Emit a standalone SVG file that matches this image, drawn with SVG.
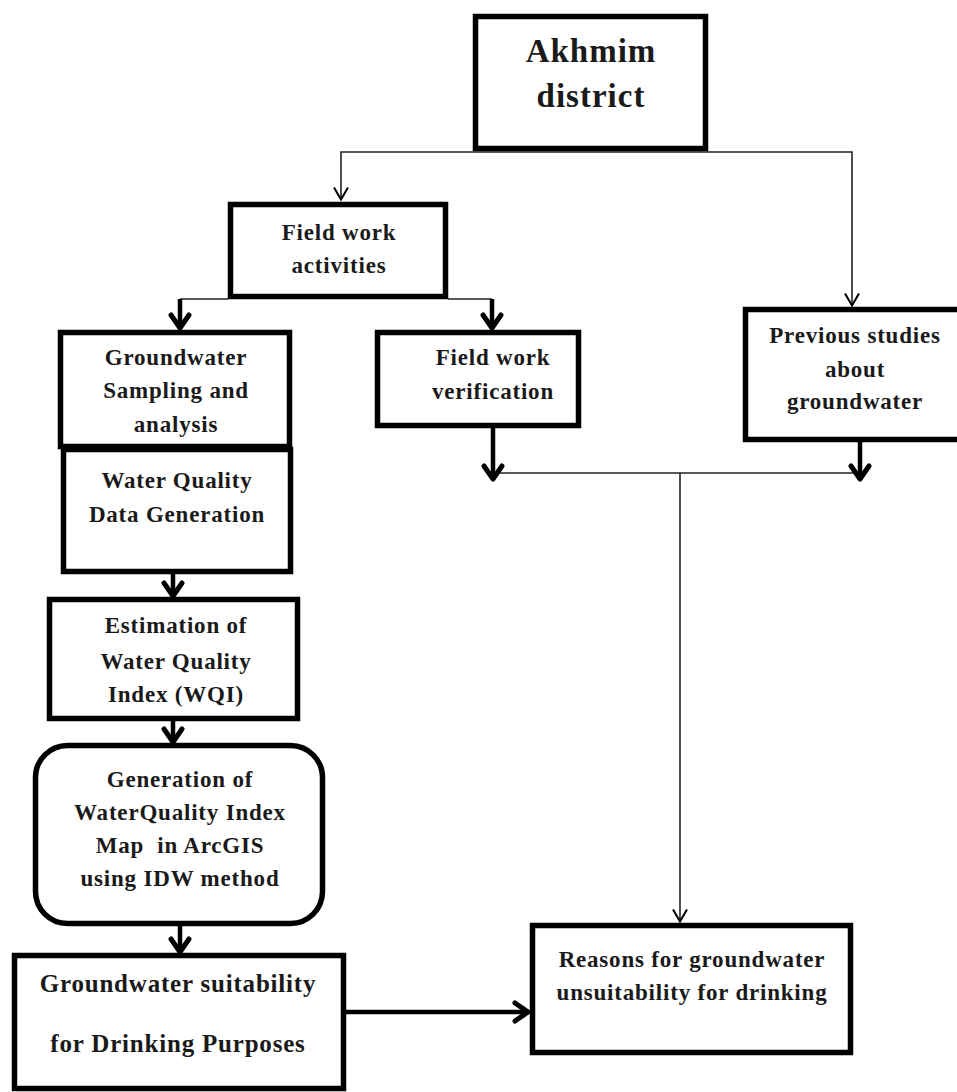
<svg xmlns="http://www.w3.org/2000/svg" width="957" height="1092" viewBox="0 0 957 1092">
<style>
.box{fill:#fff;stroke:#000;stroke-width:5.5}
.t{font-family:"Liberation Serif","Times New Roman",serif;font-weight:bold;font-size:23px;letter-spacing:0.8px;fill:#1a1a1a;text-anchor:middle}
.big{font-size:33px;letter-spacing:1px}
.mid{font-size:25px;letter-spacing:0.8px}
.thin{fill:none;stroke:#222;stroke-width:1.6}
.thick{fill:none;stroke:#000;stroke-width:4.5}
</style>
<defs>
<marker id="ah" viewBox="0 0 16 16" refX="14.5" refY="8" markerWidth="16" markerHeight="16" markerUnits="userSpaceOnUse" orient="auto">
<path d="M2,1 L14,8 L2,15" fill="none" stroke="#000" stroke-width="2"/>
</marker>
<marker id="ahk" viewBox="0 0 24 24" refX="19" refY="12" markerWidth="24" markerHeight="24" markerUnits="userSpaceOnUse" orient="auto">
<path d="M5,3 L18,12 L5,21" fill="none" stroke="#000" stroke-width="5" stroke-linejoin="round" stroke-linecap="round"/>
</marker>
</defs>
<rect width="957" height="1092" fill="#fff"/>

<g id="connectors">
<path class="thin" d="M590,152 H341 V200" marker-end="url(#ah)"/>
<path class="thin" d="M590,152 H852 V306" marker-end="url(#ah)"/>
<path class="thin" d="M228,299 H180"/>
<path class="thin" d="M448,299 H492"/>
<path class="thick" d="M180,299 V329" marker-end="url(#ahk)"/>
<path class="thick" d="M492,299 V329" marker-end="url(#ahk)"/>
<path class="thin" d="M493,473 H860"/>
<path class="thick" d="M493,428 V480" marker-end="url(#ahk)"/>
<path class="thick" d="M860,442 V480" marker-end="url(#ahk)"/>
<path class="thin" d="M680,473 V922" marker-end="url(#ah)"/>
<path class="thick" d="M173,574 V597" marker-end="url(#ahk)"/>
<path class="thick" d="M173,721 V743" marker-end="url(#ahk)"/>
<path class="thick" d="M180,926 V953" marker-end="url(#ahk)"/>
<path class="thick" d="M346,1012 H529" marker-end="url(#ahk)"/>
</g>

<g id="akhmim">
<rect class="box" x="475.5" y="16.5" width="230" height="132"/>
<text class="t big" x="591" y="62">Akhmim</text>
<text class="t big" x="591" y="107">district</text>
</g>

<g id="fieldwork">
<rect class="box" x="230.5" y="204.5" width="215" height="92"/>
<text class="t" x="339" y="240">Field work</text>
<text class="t" x="339" y="273">activities</text>
</g>

<g id="sampling">
<rect class="box" x="60.5" y="332.5" width="229" height="114"/>
<text class="t" x="176" y="365">Groundwater</text>
<text class="t" x="176" y="398">Sampling and</text>
<text class="t" x="176" y="432">analysis</text>
</g>

<g id="wqdata">
<rect class="box" x="63.5" y="449.5" width="227" height="122"/>
<text class="t" x="177" y="488">Water Quality</text>
<text class="t" x="177" y="522">Data Generation</text>
</g>

<g id="wqi">
<rect class="box" x="49.5" y="599.5" width="248" height="119"/>
<text class="t" x="176" y="633">Estimation of</text>
<text class="t" x="176" y="669">Water Quality</text>
<text class="t" x="176" y="702">Index (WQI)</text>
</g>

<g id="wqimap">
<rect class="box" x="35.5" y="745.5" width="287" height="178" rx="32"/>
<text class="t" x="180" y="787">Generation of</text>
<text class="t" x="180" y="820">WaterQuality Index</text>
<text class="t" x="180" y="853" xml:space="preserve">Map  in ArcGIS</text>
<text class="t" x="180" y="886">using IDW method</text>
</g>

<g id="suitability">
<rect class="box" x="14.5" y="955.5" width="329" height="133"/>
<text class="t mid" x="178" y="992">Groundwater suitability</text>
<text class="t mid" x="178" y="1052">for Drinking Purposes</text>
</g>

<g id="verification">
<rect class="box" x="377.5" y="332.5" width="201" height="93"/>
<text class="t" x="493" y="365">Field work</text>
<text class="t" x="493" y="399">verification</text>
</g>

<g id="previous">
<rect class="box" x="745.5" y="309.5" width="220" height="130"/>
<text class="t" x="855" y="343">Previous studies</text>
<text class="t" x="855" y="377">about</text>
<text class="t" x="855" y="409">groundwater</text>
</g>

<g id="reasons">
<rect class="box" x="532.5" y="925.5" width="318" height="127"/>
<text class="t" x="692" y="967">Reasons for groundwater</text>
<text class="t" x="692" y="1000">unsuitability for drinking</text>
</g>
</svg>
